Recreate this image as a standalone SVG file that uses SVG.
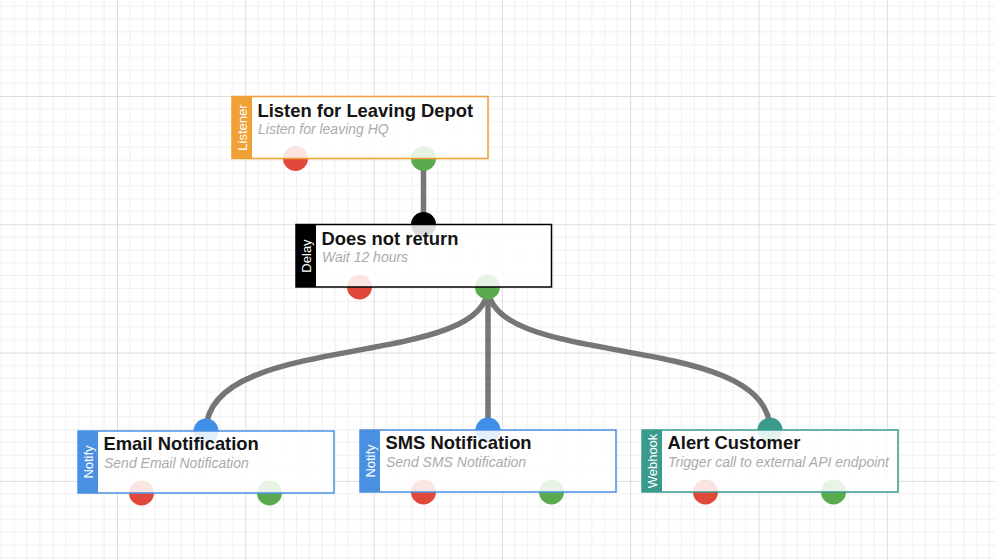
<svg xmlns="http://www.w3.org/2000/svg" width="995" height="560" viewBox="0 0 995 560">
<defs>
<pattern id="grid" patternUnits="userSpaceOnUse" x="117" y="96" width="128.3" height="128.3">
<path d="M12.83 0V128.3M25.66 0V128.3M38.49 0V128.3M51.32 0V128.3M64.15 0V128.3M76.98 0V128.3M89.81 0V128.3M102.64 0V128.3M115.47 0V128.3M0 12.83H128.3M0 25.66H128.3M0 38.49H128.3M0 51.32H128.3M0 64.15H128.3M0 76.98H128.3M0 89.81H128.3M0 102.64H128.3M0 115.47H128.3" stroke="#efefef" stroke-width="1" fill="none"/>
<path d="M0.5 0V128.3M0 0.5H128.3" stroke="#dcdcdc" stroke-width="1" fill="none"/>
</pattern>
<style>
.box{fill:#fff;fill-opacity:0.86;stroke-width:1.5}
.title{font-family:"Liberation Sans",Arial,sans-serif;font-weight:bold;font-size:18.4px;fill:#141414}
.sub{font-family:"Liberation Sans",Arial,sans-serif;font-style:italic;font-size:14px;fill:#ababab}
.side{font-family:"Liberation Sans",Arial,sans-serif;font-size:13px;fill:#fff;text-anchor:middle;dominant-baseline:central}
.conn{fill:none;stroke:#767676;stroke-width:5.5}
.red{fill:#e0483a}
.green{fill:#5aab4e}
.blue{fill:#3f8fe8}
.teal{fill:#3a9a8c}
.black{fill:#000}
</style>
</defs>
<rect width="995" height="560" fill="#fff"/>
<rect width="995" height="560" fill="url(#grid)"/>

<g id="connectors">
<path class="conn" d="M423.5 159V224.5"/>
<path class="conn" d="M488 287C488 370 206 330 206 431"/>
<path class="conn" d="M488 287V430"/>
<path class="conn" d="M488 287C488 370 770 330 770 430"/>
</g>

<g id="listen">
<circle class="red" cx="295.5" cy="158.5" r="12.5"/>
<circle class="green" cx="423.5" cy="158.5" r="12.5"/>
<rect class="box" x="232" y="96.5" width="256" height="62" stroke="#f0a035"/>
<rect x="232" y="96.5" width="20" height="62" fill="#f0a035"/>
<text class="side" transform="translate(242 127.5) rotate(-90)">Listener</text>
<text class="title" x="257.5" y="116.5">Listen for Leaving Depot</text>
<text class="sub" x="258" y="133.8">Listen for leaving HQ</text>
</g>

<g id="delay">
<circle class="black" cx="423.5" cy="224.5" r="12.5"/>
<circle class="red" cx="359.5" cy="287" r="12.5"/>
<circle class="green" cx="487.5" cy="287" r="12.5"/>
<rect class="box" x="296" y="224.5" width="255.5" height="62.5" stroke="#000"/>
<rect x="296" y="224.5" width="20" height="62.5" fill="#000"/>
<text class="side" transform="translate(306 256) rotate(-90)">Delay</text>
<text class="title" x="321.5" y="244.5">Does not return</text>
<text class="sub" x="322" y="261.8">Wait 12 hours</text>
</g>

<g id="email">
<circle class="blue" cx="206" cy="431" r="12.5"/>
<circle class="red" cx="141.5" cy="493" r="12.5"/>
<circle class="green" cx="269.5" cy="493" r="12.5"/>
<rect class="box" x="78" y="431" width="256" height="62" stroke="#4a90e2"/>
<rect x="78" y="431" width="20" height="62" fill="#4a90e2"/>
<text class="side" transform="translate(88 462) rotate(-90)">Notify</text>
<text class="title" x="103.5" y="450">Email Notification</text>
<text class="sub" x="104" y="468">Send Email Notification</text>
</g>

<g id="sms">
<circle class="blue" cx="488" cy="430" r="12.5"/>
<circle class="red" cx="423.5" cy="492" r="12.5"/>
<circle class="green" cx="551.5" cy="492" r="12.5"/>
<rect class="box" x="360" y="430" width="256" height="62" stroke="#4a90e2"/>
<rect x="360" y="430" width="20" height="62" fill="#4a90e2"/>
<text class="side" transform="translate(370 461) rotate(-90)">Notify</text>
<text class="title" x="385.5" y="449">SMS Notification</text>
<text class="sub" x="386" y="467">Send SMS Notification</text>
</g>

<g id="alert">
<circle class="teal" cx="770" cy="430" r="12.5"/>
<circle class="red" cx="705.5" cy="492" r="12.5"/>
<circle class="green" cx="833.5" cy="492" r="12.5"/>
<rect class="box" x="642" y="430" width="256" height="62" stroke="#3a9a8c"/>
<rect x="642" y="430" width="20" height="62" fill="#3a9a8c"/>
<text class="side" transform="translate(652 461) rotate(-90)">Webhook</text>
<text class="title" x="667.5" y="449">Alert Customer</text>
<text class="sub" x="668" y="467">Trigger call to external API endpoint</text>
</g>
</svg>
